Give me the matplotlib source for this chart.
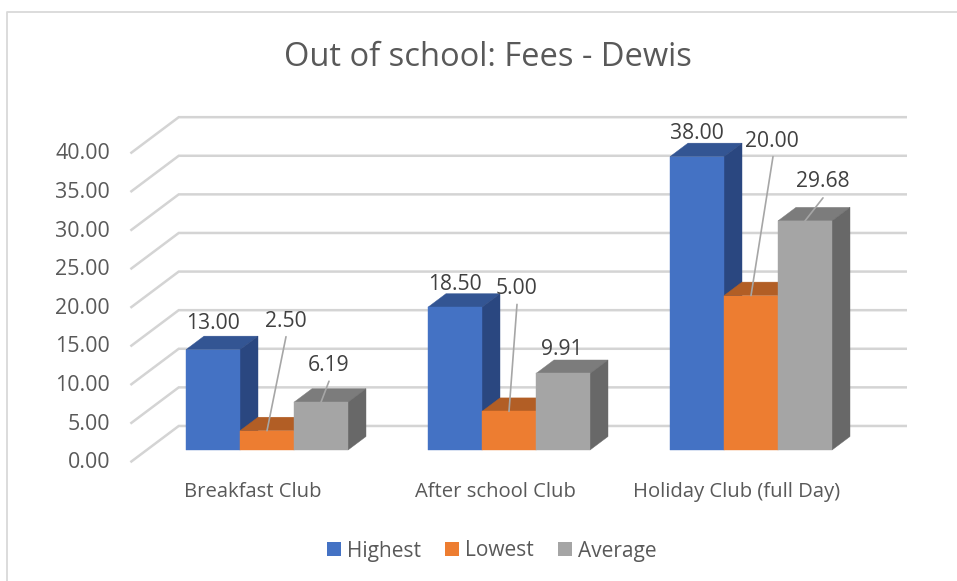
import matplotlib
matplotlib.use("Agg")
import matplotlib.pyplot as plt
from matplotlib.patches import Polygon, Patch

categories = ["Breakfast Club", "After school Club", "Holiday Club (full Day)"]
highest = [13.00, 18.50, 38.00]
lowest = [2.50, 5.00, 20.00]
average = [6.19, 9.91, 29.68]
y_ticks = [0, 5, 10, 15, 20, 25, 30, 35, 40]

series = [("Highest", highest, "#4472C4", "#335593", "#2A4780"),
          ("Lowest", lowest, "#ED7D31", "#B25E25", "#954E1F"),
          ("Average", average, "#A5A5A5", "#7C7C7C", "#686868")]

# label offsets from the bar's top-centre, pixels (x right, y up)
label_off = {"Highest": [(0, 26), (0, 23), (0, 23)],
             "Lowest": [(19, 109), (8, 123), (21, 154)],
             "Average": [(8, 37), (-1, 24), (18, 39)]}
# leader-line starts relative to the same anchor (None = no leader)
leader_off = {"Highest": [None, None, None],
              "Lowest": [(19, 94), (8, 107), (22, 139)],
              "Average": [(8, 21), None, (18, 23)]}

W, H = 957, 581
PX_PER_UNIT = 7.72
PX_PER_CAT = 242
X0_PX, Y0_PX = 267, 450
BAR_W = 54 / PX_PER_CAT
DX = 18.0 / PX_PER_CAT   # depth vector in data units
DY = 13.5 / PX_PER_UNIT

fig = plt.figure(figsize=(W / 100, H / 100), dpi=100, facecolor="white")
ax = fig.add_axes([0, 0, 1, 1])
ax.set_xlim((0 - X0_PX) / PX_PER_CAT, (W - X0_PX) / PX_PER_CAT)
ax.set_ylim((Y0_PX - H) / PX_PER_UNIT, Y0_PX / PX_PER_UNIT)
ax.axis("off")
plt.rcParams["font.family"] = ["Open Sans", "DejaVu Sans"]
FONT = "Open Sans"

fpx = lambda x: (x - X0_PX) / PX_PER_CAT
fpy = lambda y: (Y0_PX - y) / PX_PER_UNIT

# chart frame: only left and top edges are visible in the crop
ax.plot([fpx(7.5), fpx(7.5), fpx(957)], [fpy(581), fpy(12), fpy(12)],
        color="#D9D9D9", lw=1.3, zorder=0)

# gridlines on side wall and back wall
T_FRONT, T_BACK = -0.85, 1.78
x_left, x_right = fpx(146.7), fpx(873.7)
for v in y_ticks:
    ax.plot([x_left + T_FRONT * DX, x_left + T_BACK * DX, x_right + T_BACK * DX],
            [v + T_FRONT * DY, v + T_BACK * DY, v + T_BACK * DY],
            color="#D4D4D4", lw=1.8, solid_joinstyle="miter", zorder=1)
    ax.text(fpx(110), v + T_FRONT * DY - 0.15, f"{v:.2f}",
            ha="right", va="center", fontsize=15.4, color="#595959", family=FONT)

# bars
for s, (name, vals, front, top, side) in enumerate(series):
    xs = [i + (s - 1) * BAR_W for i in range(len(categories))]
    for x, v in zip(xs, vals):
        l, r = x - BAR_W / 2, x + BAR_W / 2
        ax.add_patch(Polygon([(l, v), (r, v), (r + DX, v + DY), (l + DX, v + DY)],
                             facecolor=top, edgecolor=top, lw=0.3, zorder=2 + s * 2))
        ax.add_patch(Polygon([(r, 0), (r + DX, DY), (r + DX, v + DY), (r, v)],
                             facecolor=side, edgecolor=side, lw=0.3, zorder=2 + s * 2))
    ax.bar(xs, vals, width=BAR_W, color=front, edgecolor=front, lw=0.3, zorder=3 + s * 2)

# data labels and leader lines
for s, (name, vals, *_rest) in enumerate(series):
    for i, v in enumerate(vals):
        x = i + (s - 1) * BAR_W
        ax.annotate(f"{v:.2f}", (x, v), xytext=label_off[name][i], textcoords="offset pixels",
                    ha="center", va="center", fontsize=15.2, color="#404040", family=FONT, zorder=20)
        lo = leader_off[name][i]
        if lo is not None:
            ax.annotate("", (x, v), xytext=lo, textcoords="offset pixels", zorder=19,
                        arrowprops=dict(arrowstyle="-", color="#A6A6A6", lw=1.2,
                                        shrinkA=0, shrinkB=0))

# category labels
for i, c in enumerate(categories):
    ax.text(i - 0.058, fpy(492), c, ha="center", va="center", fontsize=14.6,
            color="#595959", family=FONT)

ax.text(fpx(488), fpy(58), "Out of school: Fees - Dewis", ha="center", va="center",
        fontsize=23.5, color="#595959", family=FONT)

handles = [Patch(facecolor=c[2], edgecolor="none", label=c[0]) for c in series]
leg = ax.legend(handles=handles, ncol=3, frameon=False, loc="center",
                bbox_to_anchor=(492 / W, 1 - 551 / H), prop={"family": FONT, "size": 15},
                labelcolor="#595959", handlelength=0.67, handleheight=0.67,
                handletextpad=0.3, columnspacing=1.15)

fig.savefig("out.png", dpi=100)
